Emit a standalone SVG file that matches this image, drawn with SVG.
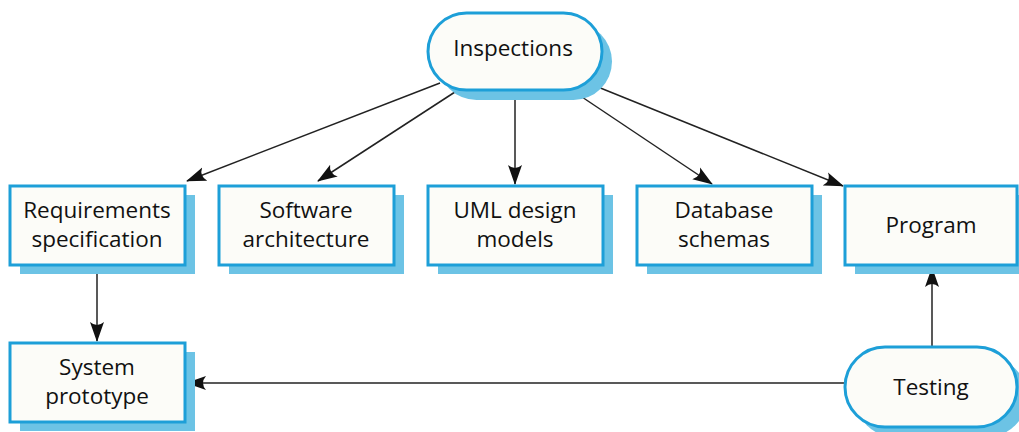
<svg xmlns="http://www.w3.org/2000/svg" width="1019" height="432" viewBox="0 0 1019 432">
<style>
.shadow{fill:#6cc3e5;stroke:none}
.box{fill:#fcfcf8;stroke:#1d9fd8;stroke-width:3}
.lbl{font-family:"Open Sans","Noto Sans",sans-serif;font-size:22.5px;fill:#111;text-anchor:middle}
.edge{stroke:#222;stroke-width:1.5;fill:none;marker-end:url(#ah)}
</style>
<defs>
<marker id="ah" markerWidth="20" markerHeight="16" refX="19" refY="8" orient="auto" markerUnits="userSpaceOnUse">
<path d="M0,1 L20,8 L0,15 Q6,8 0,1 z" fill="#111"/>
</marker>
</defs>
<rect width="1019" height="432" fill="#ffffff"/>
<g id="connectors">
<line class="edge" x1="440" y1="83" x2="187" y2="181"/>
<line class="edge" x1="455" y1="92" x2="318" y2="181"/>
<line class="edge" x1="515" y1="92" x2="515" y2="184"/>
<line class="edge" x1="573" y1="91" x2="712" y2="184"/>
<line class="edge" x1="593" y1="85" x2="843" y2="186"/>
<line class="edge" x1="97" y1="267" x2="97" y2="341"/>
<line class="edge" x1="932" y1="347" x2="932" y2="268"/>
<line class="edge" x1="845" y1="383" x2="187" y2="383"/>
</g>
<g id="inspections">
<rect class="shadow" x="438" y="23" width="174" height="77" rx="38.5"/>
<rect class="box" x="428" y="13" width="174" height="77" rx="38.5"/>
<text class="lbl" x="513" y="56">Inspections</text>
</g>
<g id="requirements">
<rect class="shadow" x="20" y="195" width="175" height="79"/>
<rect class="box" x="10" y="186" width="175" height="79"/>
<text class="lbl" x="97" y="218">Requirements</text>
<text class="lbl" x="97" y="247">specification</text>
</g>
<g id="software">
<rect class="shadow" x="229" y="195" width="175" height="79"/>
<rect class="box" x="219" y="186" width="175" height="79"/>
<text class="lbl" x="306" y="218">Software</text>
<text class="lbl" x="306" y="247">architecture</text>
</g>
<g id="uml">
<rect class="shadow" x="438" y="195" width="175" height="79"/>
<rect class="box" x="428" y="186" width="175" height="79"/>
<text class="lbl" x="515" y="218">UML design</text>
<text class="lbl" x="515" y="247">models</text>
</g>
<g id="database">
<rect class="shadow" x="647" y="195" width="175" height="79"/>
<rect class="box" x="637" y="186" width="175" height="79"/>
<text class="lbl" x="724" y="218">Database</text>
<text class="lbl" x="724" y="247">schemas</text>
</g>
<g id="program">
<rect class="shadow" x="855" y="195" width="175" height="79"/>
<rect class="box" x="845" y="186" width="172" height="79"/>
<text class="lbl" x="931" y="233">Program</text>
</g>
<g id="prototype">
<rect class="shadow" x="20" y="352" width="175" height="79"/>
<rect class="box" x="10" y="343" width="175" height="79"/>
<text class="lbl" x="97" y="375">System</text>
<text class="lbl" x="97" y="404">prototype</text>
</g>
<g id="testing">
<rect class="shadow" x="855" y="357" width="172" height="80" rx="40"/>
<rect class="box" x="845" y="347" width="172" height="80" rx="40"/>
<text class="lbl" x="931" y="395">Testing</text>
</g>
</svg>
